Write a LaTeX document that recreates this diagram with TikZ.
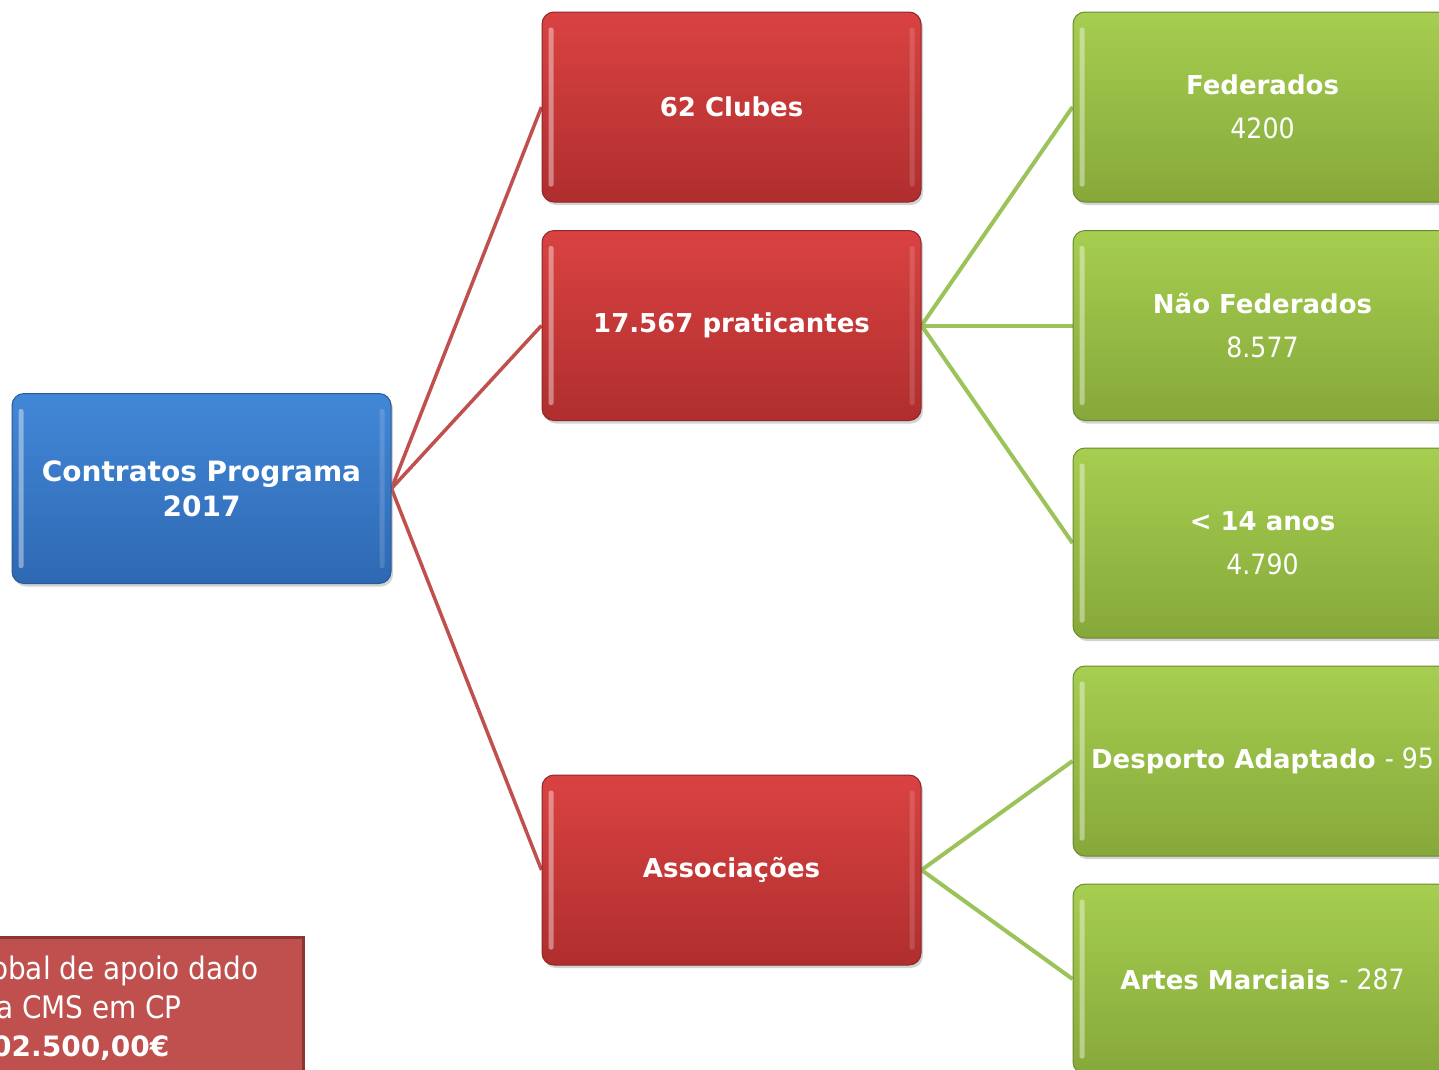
\documentclass[tikz,border=0pt]{standalone}
\usepackage{fontspec}
\setmainfont{DejaVu Sans}[BoldFont=DejaVu Sans Bold]
\newfontfamily\condf{DejaVu Sans Condensed}
\usetikzlibrary{shadows,backgrounds}
\definecolor{bluetop}{RGB}{66,136,216}
\definecolor{bluebot}{RGB}{46,104,178}
\definecolor{blueedge}{RGB}{40,88,150}
\definecolor{redtop}{RGB}{218,66,66}
\definecolor{redbot}{RGB}{176,46,46}
\definecolor{rededge}{RGB}{140,40,40}
\definecolor{greentop}{RGB}{166,206,80}
\definecolor{greenbot}{RGB}{134,168,58}
\definecolor{greenedge}{RGB}{108,138,46}
\definecolor{redline}{RGB}{192,80,77}
\definecolor{greenline}{RGB}{155,195,89}
\definecolor{notefill}{RGB}{192,80,77}
\definecolor{noteedge}{RGB}{140,54,52}
\tikzset{
  basebox/.style={rectangle, rounded corners=12pt, minimum width=379pt, minimum height=190pt,
    line width=1pt, text=white, align=center, inner sep=0pt,
    drop shadow={opacity=0.35, shadow xshift=2pt, shadow yshift=-3pt}},
  bluebox/.style={basebox, top color=bluetop, bottom color=bluebot, draw=blueedge},
  redbox/.style={basebox, top color=redtop, bottom color=redbot, draw=rededge},
  greenbox/.style={basebox, top color=greentop, bottom color=greenbot, draw=greenedge},
  boldtxt/.style={font=\fontsize{26pt}{32pt}\selectfont\bfseries},
  redlink/.style={draw=redline, line width=3.5pt},
  greenlink/.style={draw=greenline, line width=4pt},
  shine/.style={fill=white, opacity=0.4},
  notetxt/.style={anchor=base west, text=white, inner sep=0pt}
}
\newcommand{\numtxt}[1]{{\condf\fontsize{28pt}{32pt}\selectfont\mdseries #1}}
\begin{document}
\begin{tikzpicture}[x=1pt,y=-1pt]
\useasboundingbox (0,0) rectangle (1439,1069);
% boxes
\node[bluebox, font=\fontsize{28pt}{35pt}\selectfont\bfseries] (cp) at (201.5,488.5) {Contratos Programa\\2017};
\node[redbox, boldtxt] (clubes) at (731.5,107) {62 Clubes};
\node[redbox, boldtxt] (prat) at (731.5,325.5) {17.567 praticantes};
\node[redbox, boldtxt] (assoc) at (731.5,870) {Associações};
\node[greenbox, boldtxt] (fed) at (1262.5,107) {Federados\\[12pt]\numtxt{4200}};
\node[greenbox, boldtxt] (nfed) at (1262.5,325.5) {Não Federados\\[12pt]\numtxt{8.577}};
\node[greenbox, boldtxt] (menor) at (1262.5,543) {< 14 anos\\[12pt]\numtxt{4.790}};
\node[greenbox, boldtxt] (adapt) at (1262.5,761) {Desporto Adaptado \numtxt{- 95}};
\node[greenbox, boldtxt] (artes) at (1262.5,979) {Artes Marciais \numtxt{- 287}};
% shine strips
\foreach \n in {cp,clubes,prat,assoc,fed,nfed,menor,adapt,artes}{
  \fill[shine, rounded corners=2pt] ([xshift=7pt,yshift=-16pt]\n.north west) rectangle ([xshift=12pt,yshift=16pt]\n.south west);
  \fill[white, opacity=0.15, rounded corners=2pt] ([xshift=-12pt,yshift=-16pt]\n.north east) rectangle ([xshift=-7pt,yshift=16pt]\n.south east);
}
% connectors
\begin{scope}[on background layer]
\draw[redlink] (cp.east) -- (clubes.west);
\draw[redlink] (cp.east) -- (prat.west);
\draw[redlink] (cp.east) -- (assoc.west);
\draw[greenlink] (prat.east) -- (fed.west);
\draw[greenlink] (prat.east) -- (nfed.west);
\draw[greenlink] (prat.east) -- (menor.west);
\draw[greenlink] (assoc.east) -- (adapt.west);
\draw[greenlink] (assoc.east) -- (artes.west);
\end{scope}
% note box (cut off at the picture's edge, as in the reference)
\node[draw=noteedge, fill=notefill, line width=3pt, minimum width=320pt, minimum height=150pt, inner sep=0pt,
  drop shadow={opacity=0.3, shadow xshift=2pt, shadow yshift=-2pt}] (note) at (143,1012) {};
\node[notetxt, font=\condf\fontsize{31pt}{34pt}\selectfont] (n1) at (-9,979) {obal de apoio dado};
\node[notetxt, font=\condf\fontsize{31pt}{34pt}\selectfont] (n2) at (-4,1018) {a CMS em CP};
\node[notetxt, font=\fontsize{28pt}{32pt}\selectfont\bfseries] (n3) at (-8,1056) {02.500,00€};
\end{tikzpicture}
\end{document}
